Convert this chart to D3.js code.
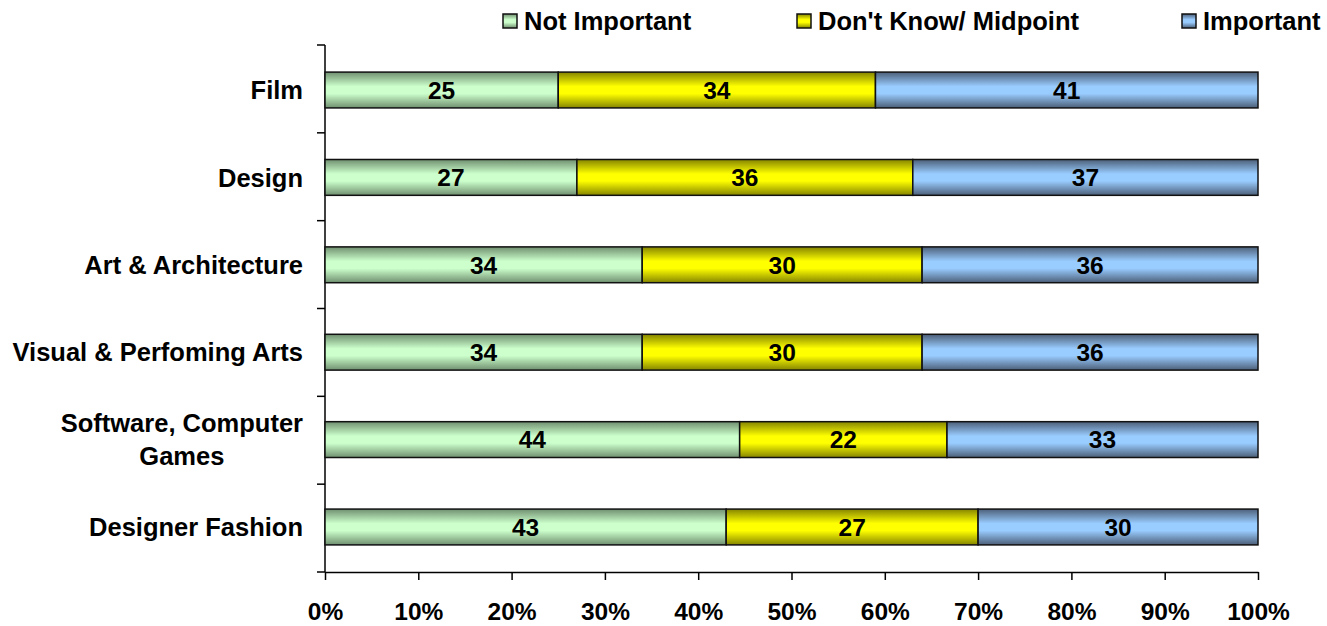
<!DOCTYPE html>
<html>
<head>
<meta charset="utf-8">
<script src="https://cdn.jsdelivr.net/npm/d3@7"></script>
<style>
  body { margin: 0; background: #fff; }
  text { font-family: "Liberation Sans", Arial, sans-serif; font-weight: bold; fill: #000; }
</style>
</head>
<body>
<div id="chart"></div>
<script>
// DATA
const categories = ['Film', 'Design', 'Art & Architecture', 'Visual & Perfoming Arts', 'Software, Computer Games', 'Designer Fashion'];
const seriesNames = ['Not Important', "Don't Know/ Midpoint", 'Important'];
const notImportant = [25, 27, 34, 34, 44, 43];
const dontKnow = [34, 36, 30, 30, 22, 27];
const important = [41, 37, 36, 36, 33, 30];
const tickValues = [0, 0.1, 0.2, 0.3, 0.4, 0.5, 0.6, 0.7, 0.8, 0.9, 1];

// colours: [light middle, dark edge]
const colors = [['#ccffcc', '#6f8f6f'], ['#ffff00', '#858500'], ['#99ccff', '#4c5f78']];

const width = 1327;
const height = 626;
const margin = {left: 325, right: 69, top: 45, bottom: 54};

const svg = d3.select('#chart').append('svg')
  .attr('width', width)
  .attr('height', height);

// gradients
const defs = svg.append('defs');
colors.forEach(function(c, i) {
  const g = defs.append('linearGradient')
    .attr('id', 'grad' + i)
    .attr('x1', 0).attr('y1', 0).attr('x2', 0).attr('y2', 1);
  g.append('stop').attr('offset', '0%').attr('stop-color', c[1]);
  g.append('stop').attr('offset', '40%').attr('stop-color', c[0]);
  g.append('stop').attr('offset', '60%').attr('stop-color', c[0]);
  g.append('stop').attr('offset', '100%').attr('stop-color', c[1]);
});

// PREP DATA
const rows = categories.map(function(cat, i) {
  return {cat: cat, 0: notImportant[i], 1: dontKnow[i], 2: important[i]};
});
const stack = d3.stack().keys([0, 1, 2]).offset(d3.stackOffsetExpand);
const stacked = stack(rows);

const x = d3.scaleLinear()
  .domain([0, 1])
  .range([margin.left, width - margin.right]);

const y = d3.scaleBand()
  .domain(categories)
  .range([margin.top, height - margin.bottom])
  .paddingInner(0.59)
  .paddingOuter(0.31);

const yEdge = d3.scaleLinear()
  .domain([0, categories.length])
  .range([margin.top, height - margin.bottom]);

// axes
const xAxis = svg.append('g')
  .attr('transform', `translate(0, ${height - margin.bottom})`)
  .call(d3.axisBottom(x).tickValues(tickValues).tickFormat(d3.format('.0%')).tickSize(8).tickSizeOuter(0));
xAxis.select('.domain').attr('stroke', '#000').attr('stroke-width', 1.5);
xAxis.selectAll('.tick line').attr('stroke', '#000').attr('stroke-width', 1.5);
xAxis.selectAll('.tick text')
  .attr('y', 31)
  .style('font-size', '24.5px')
  .style('font-family', '"Liberation Sans", Arial, sans-serif')
  .style('font-weight', 'bold');

// y axis line + ticks between bands
svg.append('line')
  .attr('x1', margin.left).attr('x2', margin.left)
  .attr('y1', margin.top).attr('y2', height - margin.bottom)
  .attr('stroke', '#000').attr('stroke-width', 1.5);
svg.selectAll('.ytick')
  .data(d3.range(categories.length + 1))
  .enter()
  .append('line')
  .attr('class', 'ytick')
  .attr('x1', margin.left - 8).attr('x2', margin.left)
  .attr('y1', function(d) { return yEdge(d); })
  .attr('y2', function(d) { return yEdge(d); })
  .attr('stroke', '#000').attr('stroke-width', 1.5);

// bars
const layers = svg.selectAll('g.layer')
  .data(stacked)
  .enter()
  .append('g')
  .attr('class', 'layer')
  .attr('fill', function(d, i) { return `url(#grad${i})`; });

layers.selectAll('rect')
  .data(function(d) { return d; })
  .enter()
  .append('rect')
  .attr('x', function(d) { return x(d[0]); })
  .attr('y', function(d) { return y(d.data.cat); })
  .attr('width', function(d) { return x(d[1]) - x(d[0]); })
  .attr('height', y.bandwidth())
  .attr('stroke', '#111')
  .attr('stroke-width', 1.5);

layers.each(function(layer) {
  const key = layer.key;
  d3.select(this).selectAll('text.val')
    .data(layer)
    .enter()
    .append('text')
    .attr('class', 'val')
    .attr('x', function(d) { return (x(d[0]) + x(d[1])) / 2; })
    .attr('y', function(d) { return y(d.data.cat) + y.bandwidth() / 2; })
    .attr('dy', '0.36em')
    .attr('text-anchor', 'middle')
    .style('font-size', '24.5px')
    .style('fill', '#000')
    .text(function(d) { return d.data[key]; });
});

// category labels
const labelRight = 303;
categories.forEach(function(cat) {
  const cy = y(cat) + y.bandwidth() / 2;
  if (cat === 'Software, Computer Games') {
    const lines = ['Software, Computer', 'Games'];
    const g = svg.append('g');
    const t = lines.map(function(l, i) {
      return g.append('text')
        .attr('y', cy + (i - 0.5) * 33)
        .attr('dy', '0.36em')
        .attr('text-anchor', 'middle')
        .style('font-size', '25.5px')
        .text(l);
    });
    const w = d3.max(t, function(s) { return s.node().getComputedTextLength(); });
    t.forEach(function(s) { s.attr('x', labelRight - w / 2); });
  } else {
    svg.append('text')
      .attr('x', labelRight)
      .attr('y', cy)
      .attr('dy', '0.36em')
      .attr('text-anchor', 'end')
      .style('font-size', '25.5px')
      .text(cat);
  }
});

// legend
const legendX = [503, 797, 1182];
const legend = svg.selectAll('g.legend')
  .data(seriesNames)
  .enter()
  .append('g')
  .attr('class', 'legend')
  .attr('transform', function(d, i) { return `translate(${legendX[i]}, 21)`; });
legend.append('rect')
  .attr('x', 0).attr('y', -7)
  .attr('width', 14).attr('height', 14)
  .attr('fill', function(d, i) { return `url(#grad${i})`; })
  .attr('stroke', '#111')
  .attr('stroke-width', 1.5);
legend.append('text')
  .attr('x', 21)
  .attr('dy', '0.36em')
  .style('font-size', '25.5px')
  .text(function(d) { return d; });
</script>
</body>
</html>
